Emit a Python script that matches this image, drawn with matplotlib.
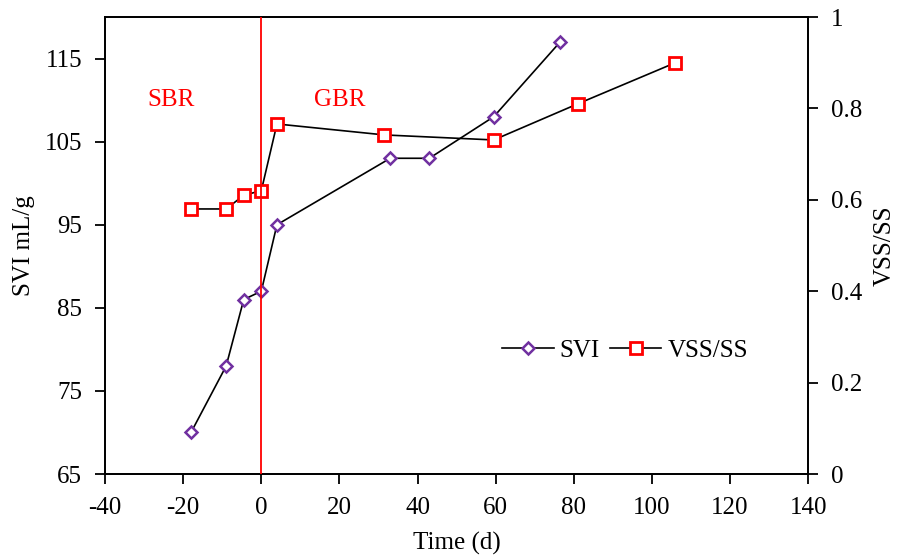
import matplotlib
matplotlib.use("Agg")
import matplotlib.pyplot as plt
from matplotlib.lines import Line2D

plt.rcParams['font.family'] = ['Liberation Serif', 'DejaVu Serif']
plt.rcParams['font.size'] = 18
plt.rcParams['axes.unicode_minus'] = False

svi_t = [-18, -9, -4.5, 0, 4, 33, 43, 59.5, 76.5]
svi = [70, 78, 86, 87, 95, 103, 103, 108, 117]
vss_t = [-18, -9, -4.5, 0, 4, 31.5, 59.5, 81, 106]
vss = [0.58, 0.58, 0.61, 0.62, 0.766, 0.742, 0.731, 0.81, 0.90]

fig = plt.figure(figsize=(8.98, 5.58), dpi=100)
ax = fig.add_axes([0.117, 0.1505, 0.783, 0.819])
ax2 = ax.twinx()

purple = '#7030A0'
l1, = ax.plot(svi_t, svi, color='black', lw=1.2, marker='D', ms=6.5,
              mfc='white', mec=purple, mew=1.8, zorder=3)
l2, = ax2.plot(vss_t, vss, color='black', lw=1.2, marker='s', ms=9,
               mfc='white', mec='red', mew=2, zorder=3)

ax.set_xlim(-40, 140)
ax.set_ylim(65, 120)
ax.set_yticks([65, 75, 85, 95, 105, 115])
ax.set_xticks(range(-40, 141, 20))
ax2.set_ylim(0, 1)
ax2.set_yticks([0, 0.2, 0.4, 0.6, 0.8, 1])
ax2.set_yticklabels(['0', '0.2', '0.4', '0.6', '0.8', '1'])

ax2.axvline(0, color='red', lw=1.3, zorder=4)

for a in (ax, ax2):
    a.tick_params(direction='out', length=7, width=1.3, colors='black', labelsize=18, pad=9.5)
    for s in a.spines.values():
        s.set_linewidth(1.3)

ax.set_xlabel('Time (d)', labelpad=9, fontsize=18)
ax.set_ylabel('SVI mL/g', fontsize=18, labelpad=7)
ax2.set_ylabel('VSS/SS', fontsize=18, labelpad=8)

ax.text(-23, 110, 'SBR', color='red', ha='center', va='center', fontsize=18)
ax.text(20, 110, 'GBR', color='red', ha='center', va='center', fontsize=18)

h1 = Line2D([], [], color='black', lw=1.2, marker='D', ms=6.5, mfc='white', mec=purple, mew=1.8)
h2 = Line2D([], [], color='black', lw=1.2, marker='s', ms=9, mfc='white', mec='red', mew=2)
ax2.legend([h1, h2], ['SVI', 'VSS/SS'], loc='center left', bbox_to_anchor=(0.565, 0.27),
           ncol=2, frameon=False, handlelength=2.05, columnspacing=0.4, handletextpad=0.25,
           fontsize=18, borderpad=0, borderaxespad=0)

fig.savefig('out.png', dpi=100)
